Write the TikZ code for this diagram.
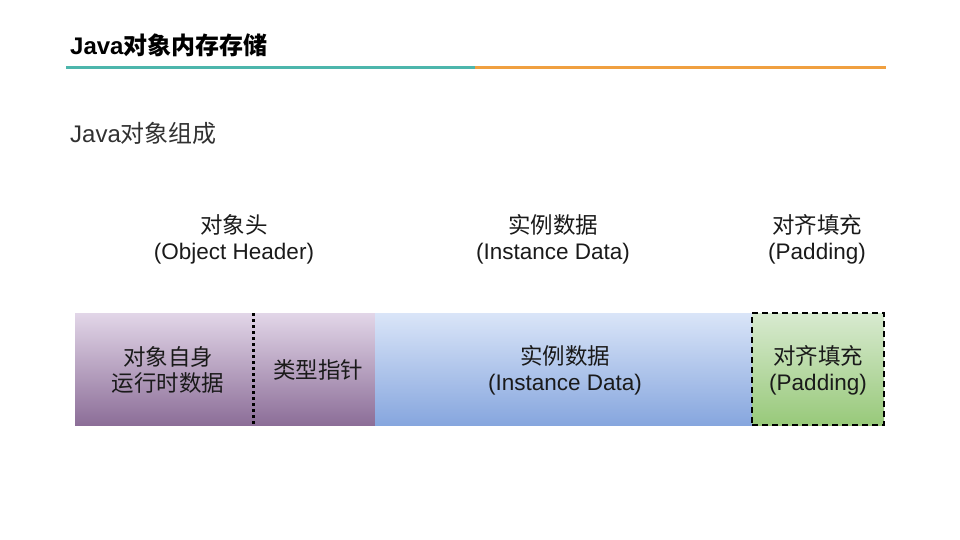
\documentclass[tikz,border=0pt]{standalone}
\usepackage{fontspec}
\setmainfont{Liberation Sans}
\newfontfamily\cjk{Noto Sans CJK SC}
\newfontfamily\cjkbold{Noto Sans CJK SC Bold}
\definecolor{teal1}{HTML}{4DB6AC}
\definecolor{orange1}{HTML}{F0A040}
\definecolor{purpTop}{HTML}{E2D6E8}
\definecolor{purpBot}{HTML}{8C6E98}
\definecolor{blueTop}{HTML}{DAE5F8}
\definecolor{blueBot}{HTML}{86A6DE}
\definecolor{greenTop}{HTML}{D8EAD0}
\definecolor{greenBot}{HTML}{98C97A}
\definecolor{txt}{HTML}{1A1A1A}
\begin{document}
\begin{tikzpicture}[x=1pt,y=-1pt,
  lbl/.style={align=center,font=\fontsize{22.5}{26}\selectfont,text=txt,inner sep=0pt},
  barbox/.style={minimum height=112pt,inner sep=0pt,outer sep=0pt,anchor=north west}]
\useasboundingbox (0,0) rectangle (960,540);
\fill[white] (0,0) rectangle (960,540);
% title
\node[anchor=west,inner sep=0pt,font=\fontsize{24}{26}\selectfont\bfseries,text=black] (title) at (70,45) {Java{\cjkbold 对象内存存储}};
\coordinate (l1) at (66,67.5);
\coordinate (l2) at (475,67.5);
\coordinate (l3) at (886,67.5);
\draw[teal1,line width=2.2pt] (l1) -- (l2);
\draw[orange1,line width=2.2pt] (l2) -- (l3);
% subtitle
\node[anchor=west,inner sep=0pt,font=\fontsize{24}{26}\selectfont,text=txt!90] (sub) at (70,133) {Java{\cjk 对象组成}};
% headings
\node[lbl] (h1) at (234,239) {{\cjk 对象头}\\(Object Header)};
\node[lbl] (h2) at (553,239) {{\cjk 实例数据}\\(Instance Data)};
\node[lbl] (h3) at (817,239) {{\cjk 对齐填充}\\(Padding)};
% bar
\node[barbox,minimum width=300pt,top color=purpTop,bottom color=purpBot] (p) at (75,313) {};
\node[barbox,minimum width=377pt,top color=blueTop,bottom color=blueBot] (b) at (375,313) {};
\node[barbox,minimum width=132pt,top color=greenTop,bottom color=greenBot,draw=black,line width=1.8pt,dash pattern=on 6pt off 4pt] (g) at (752,313) {};
\coordinate (d1) at (253,313);
\coordinate (d2) at (253,425);
\draw[black,line width=3pt,dash pattern=on 3pt off 3pt] (d1) -- (d2);
% inner labels
\node[lbl] (t1) at (168,370) {{\cjk 对象自身}\\{\cjk 运行时数据}};
\node[lbl] (t2) at (318,370) {{\cjk 类型指针}};
\node[lbl] (t3) at (565,370) {{\cjk 实例数据}\\(Instance Data)};
\node[lbl] (t4) at (818,370) {{\cjk 对齐填充}\\(Padding)};
\end{tikzpicture}
\end{document}
